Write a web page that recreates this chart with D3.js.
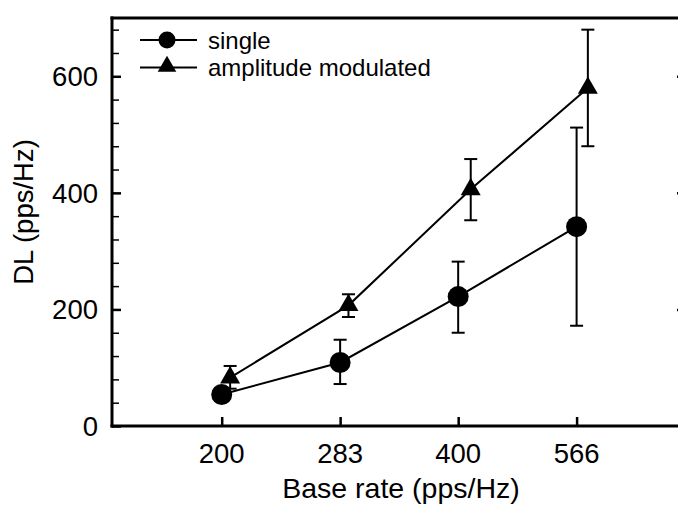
<!DOCTYPE html>
<html>
<head>
<meta charset="utf-8">
<script src="https://cdn.jsdelivr.net/npm/d3@7/dist/d3.min.js"></script>
<style>
  html, body { margin: 0; padding: 0; background: #fff; }
  svg { display: block; font-family: "Liberation Sans", Arial, Helvetica, sans-serif; }
</style>
</head>
<body>
<svg id="chart" width="678" height="509"></svg>
<script>
// ---- data ----
const rateTicks = [200, 283, 400, 566];
const dlTicks = [0, 200, 400, 600];
const dlMinorTicks = [40, 80, 120, 160, 240, 280, 320, 360, 440, 480, 520, 560, 640, 680];

const singleRate = [200, 283, 400, 566];
const singleDL   = [54, 109, 222, 342];
const singleLo   = [46, 72, 160, 172];
const singleHi   = [62, 148, 282, 512];

const amRate = [205, 290, 415, 585];
const amDL   = [83, 207, 406, 580];
const amLo   = [64, 187, 353, 480];
const amHi   = [103, 226, 458, 680];

const seriesNames = ["single", "amplitude modulated"];

// ---- layout ----
const svg = d3.select("#chart");
const L = 112, R = 686, T = 18, B = 426;

const x = d3.scaleLog().domain([145, 780]).range([L, R]);
const y = d3.scaleLinear().domain([0, 700]).range([B, T]);

const single = singleRate.map((r, i) => ({ r, v: singleDL[i], lo: singleLo[i], hi: singleHi[i] }));
const am = amRate.map((r, i) => ({ r, v: amDL[i], lo: amLo[i], hi: amHi[i] }));

// frame
const frame = svg.append("g");
frame.append("line").attr("x1", L).attr("x2", L).attr("y1", T - 1.5).attr("y2", B + 1.5)
  .attr("stroke", "#000").attr("stroke-width", 3);
frame.append("line").attr("x1", L - 1.5).attr("x2", 700).attr("y1", B).attr("y2", B)
  .attr("stroke", "#000").attr("stroke-width", 3);
frame.append("line").attr("x1", L - 1.5).attr("x2", 700).attr("y1", T).attr("y2", T)
  .attr("stroke", "#000").attr("stroke-width", 3);
frame.append("line").attr("x1", R).attr("x2", R).attr("y1", T).attr("y2", B)
  .attr("stroke", "#000").attr("stroke-width", 3);

// left axis (ticks inward) via d3 axis
const yAxis = d3.axisRight(y).tickValues(dlTicks).tickSize(9).tickFormat("");
const gy = svg.append("g").attr("transform", `translate(${L},0)`).call(yAxis);
gy.select(".domain").remove();
gy.selectAll(".tick line").attr("stroke-width", 2.5);

const yMinor = d3.axisRight(y).tickValues(dlMinorTicks).tickSize(7).tickFormat("");
const gym = svg.append("g").attr("transform", `translate(${L},0)`).call(yMinor);
gym.select(".domain").remove();
gym.selectAll(".tick line").attr("stroke-width", 1.5);

// y tick labels
svg.append("g").selectAll("text").data(dlTicks).join("text")
  .attr("x", 98).attr("y", d => y(d)).attr("dy", "0.36em")
  .attr("text-anchor", "end").attr("font-size", 27.5).text(d => d);

// right axis ticks
const yRight = d3.axisLeft(y).tickValues([200, 400, 600]).tickSize(9).tickFormat("");
const gyr = svg.append("g").attr("transform", `translate(${R},0)`).call(yRight);
gyr.select(".domain").remove();
gyr.selectAll(".tick line").attr("stroke-width", 2.5);

// x axis ticks inward
const xAxis = d3.axisTop(x).tickValues(rateTicks).tickSize(9).tickFormat("");
const gx = svg.append("g").attr("transform", `translate(0,${B})`).call(xAxis);
gx.select(".domain").remove();
gx.selectAll(".tick line").attr("stroke-width", 2.5);

svg.append("g").selectAll("text").data(rateTicks).join("text")
  .attr("x", d => x(d)).attr("y", 463)
  .attr("text-anchor", "middle").attr("font-size", 27.5).text(d => d);

// axis titles
svg.append("text").attr("x", 401).attr("y", 498).attr("text-anchor", "middle")
  .attr("font-size", 28.5).text("Base rate (pps/Hz)");
svg.append("text").attr("transform", "translate(33,212) rotate(-90)")
  .attr("text-anchor", "middle").attr("font-size", 27.5).text("DL (pps/Hz)");

// series
const line = d3.line().x(d => x(d.r)).y(d => y(d.v));
const plot = svg.append("g");

function drawErr(data) {
  const g = plot.append("g");
  g.selectAll("line.v").data(data).join("line")
    .attr("x1", d => x(d.r)).attr("x2", d => x(d.r))
    .attr("y1", d => y(d.lo)).attr("y2", d => y(d.hi))
    .attr("stroke", "#000").attr("stroke-width", 2);
  g.selectAll("line.hi").data(data).join("line")
    .attr("x1", d => x(d.r) - 6.5).attr("x2", d => x(d.r) + 6.5)
    .attr("y1", d => y(d.hi)).attr("y2", d => y(d.hi))
    .attr("stroke", "#000").attr("stroke-width", 2);
  g.selectAll("line.lo").data(data).join("line")
    .attr("x1", d => x(d.r) - 6.5).attr("x2", d => x(d.r) + 6.5)
    .attr("y1", d => y(d.lo)).attr("y2", d => y(d.lo))
    .attr("stroke", "#000").attr("stroke-width", 2);
}
drawErr(single);
drawErr(am);

plot.append("path").datum(single).attr("d", line)
  .attr("fill", "none").attr("stroke", "#000").attr("stroke-width", 2);
plot.append("path").datum(am).attr("d", line)
  .attr("fill", "none").attr("stroke", "#000").attr("stroke-width", 2);

const circ = d3.symbol().type(d3.symbolCircle).size(Math.PI * 10.5 * 10.5);
const tri = d3.symbol().type(d3.symbolTriangle).size(173);

plot.append("g").selectAll("path").data(single).join("path")
  .attr("transform", d => `translate(${x(d.r)},${y(d.v)})`)
  .attr("d", circ).attr("fill", "#000");
plot.append("g").selectAll("path").data(am).join("path")
  .attr("transform", d => `translate(${x(d.r)},${y(d.v)})`)
  .attr("d", tri).attr("fill", "#000");

// legend
const leg = svg.append("g");
const legY = [40, 67.5];
leg.selectAll("line").data(seriesNames).join("line")
  .attr("x1", 140).attr("x2", 197).attr("y1", (d, i) => legY[i]).attr("y2", (d, i) => legY[i])
  .attr("stroke", "#000").attr("stroke-width", 2);
leg.append("path").attr("transform", `translate(167,${legY[0]})`)
  .attr("d", d3.symbol().type(d3.symbolCircle).size(Math.PI * 8.5 * 8.5)()).attr("fill", "#000");
leg.append("path").attr("transform", `translate(167,${legY[1] - 1})`)
  .attr("d", d3.symbol().type(d3.symbolTriangle).size(150)()).attr("fill", "#000");
leg.selectAll("text").data(seriesNames).join("text")
  .attr("x", 208).attr("y", (d, i) => legY[i]).attr("dy", "0.36em")
  .attr("font-size", 24).text(d => d);
</script>
</body>
</html>
